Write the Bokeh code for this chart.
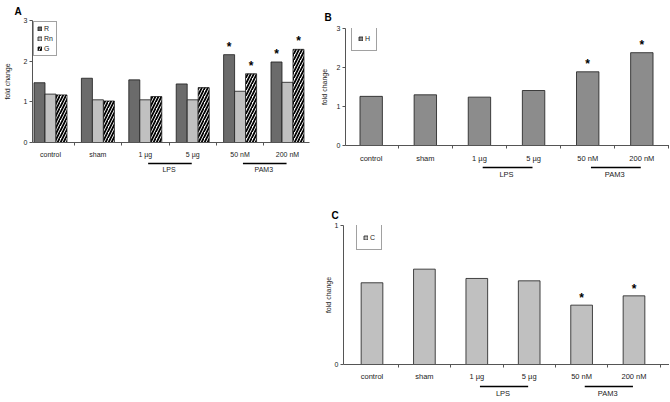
import numpy as np
from bokeh.plotting import figure
from bokeh.models import Range1d, FixedTicker, Legend, LegendItem, Spacer
from bokeh.layouts import column, row
from bokeh.core.properties import value
from bokeh.embed import file_html
from bokeh.resources import INLINE

# ---------------- data ----------------
categories = ["control", "sham", "1 \u00b5g", "5 \u00b5g", "50 nM", "200 nM"]
group_names = ["LPS", "PAM3"]
group_members = [["1 \u00b5g", "5 \u00b5g"], ["50 nM", "200 nM"]]

a_R = [1.47, 1.58, 1.54, 1.44, 2.16, 1.98]
a_Rn = [1.19, 1.05, 1.05, 1.05, 1.26, 1.48]
a_G = [1.17, 1.02, 1.13, 1.35, 1.69, 2.29]
a_R_sig = [False, False, False, False, True, True]
a_Rn_sig = [False, False, False, False, False, False]
a_G_sig = [False, False, False, False, True, True]

b_H = [1.26, 1.30, 1.24, 1.41, 1.89, 2.38]
b_H_sig = [False, False, False, False, True, True]

c_C = [0.588, 0.686, 0.619, 0.602, 0.427, 0.494]
c_C_sig = [False, False, False, False, True, True]

a_yticks = [0, 1, 2, 3]
b_yticks = [0, 1, 2, 3]
c_yticks = [0, 1]

FONT = "Liberation Sans"
AXIS_COL = "#555555"
TEXT_COL = "#222222"


def make_main(width, bl, br, bt, frame_h, bb, x0_px, step_px, ymax, yticks,
              letter, letter_offset, letter_standoff, tick_font, label_standoff,
              ylabel_standoff):
    frame_w = width - bl - br
    x_start = -x0_px / step_px
    xr = Range1d(x_start, x_start + frame_w / step_px)
    p = figure(width=width, height=bt + frame_h + bb, output_backend="svg",
               toolbar_location=None, x_range=xr, y_range=Range1d(0, ymax),
               min_border=0, min_border_left=bl, min_border_right=br,
               min_border_top=bt, min_border_bottom=bb, title=letter)
    p.grid.visible = False
    p.outline_line_color = None
    p.background_fill_color = "white"
    p.border_fill_color = "white"

    t = p.title
    t.align = "left"
    t.offset = letter_offset
    t.standoff = letter_standoff
    t.text_font = FONT
    t.text_font_size = "10px"
    t.text_font_style = "bold"
    t.text_color = "black"

    n = len(categories)
    xa = p.xaxis[0]
    xa.ticker = FixedTicker(ticks=list(range(n)), minor_ticks=[i + 0.5 for i in range(n)])
    xa.major_label_overrides = {i: c for i, c in enumerate(categories)}
    xa.major_tick_out = 0
    xa.major_tick_in = 0
    xa.minor_tick_out = 3
    xa.minor_tick_in = 0
    xa.minor_tick_line_color = AXIS_COL
    xa.axis_line_color = AXIS_COL
    xa.major_label_standoff = label_standoff
    xa.major_label_text_font = FONT
    xa.major_label_text_font_size = tick_font
    xa.major_label_text_color = TEXT_COL

    ya = p.yaxis[0]
    ya.ticker = FixedTicker(ticks=yticks, minor_ticks=[])
    ya.major_tick_out = 3
    ya.major_tick_in = 0
    ya.minor_tick_out = 0
    ya.minor_tick_in = 0
    ya.major_tick_line_color = AXIS_COL
    ya.axis_line_color = AXIS_COL
    ya.major_label_standoff = 2
    ya.major_label_text_font = FONT
    ya.major_label_text_font_size = "7px"
    ya.major_label_text_color = TEXT_COL
    ya.axis_label = "fold change"
    ya.axis_label_text_font = FONT
    ya.axis_label_text_font_size = "7px"
    ya.axis_label_text_font_style = "normal"
    ya.axis_label_text_color = TEXT_COL
    ya.axis_label_standoff = ylabel_standoff
    return p, xr


def make_groups(width, height, bl, br, xr, line_px, tick_font):
    """Strip under the x axis holding the LPS / PAM3 bracket lines."""
    g = figure(width=width, height=height, output_backend="svg", toolbar_location=None,
               x_range=xr, y_range=Range1d(-height, 0), x_axis_location=None,
               y_axis_location=None, min_border=0, min_border_left=bl,
               min_border_right=br, min_border_top=0, min_border_bottom=0)
    g.grid.visible = False
    g.outline_line_color = None
    g.background_fill_color = "white"
    g.border_fill_color = "white"
    for name, members in zip(group_names, group_members):
        i0 = categories.index(members[0])
        i1 = categories.index(members[-1])
        g.segment(x0=[i0 + 0.06], y0=[-line_px], x1=[i1 - 0.02], y1=[-line_px],
                  line_color="black", line_width=1.5)
        g.text(x=[(i0 + i1) / 2], y=[-line_px], text=[name], text_font=value(FONT),
               text_font_size=tick_font, text_align="center", text_baseline="top",
               y_offset=2, text_color=TEXT_COL)
    return g


def add_stars(p, xs, vals, sig, y_off):
    sx = [x for x, s in zip(xs, sig) if s]
    sy = [v for v, s in zip(vals, sig) if s]
    if sx:
        p.text(x=sx, y=sy, text=["*"] * len(sx), text_font=value(FONT),
               text_font_size="12px", text_font_style="bold", text_align="center",
               text_baseline="middle", y_offset=y_off, text_color="black")


def style_legend(lg, pad, lw):
    lg.label_text_font = FONT
    lg.label_text_font_size = "7px"
    lg.label_text_color = TEXT_COL
    lg.glyph_width = 5
    lg.glyph_height = 5
    lg.label_standoff = 2
    lg.label_width = lw
    lg.padding = pad
    lg.margin = 0
    lg.border_line_color = "#444444"
    lg.border_line_width = 1
    lg.background_fill_color = "white"
    lg.background_fill_alpha = 1.0


idx = np.arange(len(categories))

# ---------------- Panel A ----------------
A_W, A_BL, A_BR = 317, 32, 8
pA, xrA = make_main(A_W, A_BL, A_BR, 19, 125, 16, 18, 47.4, 3, a_yticks,
                    "A", -18, 7, "7px", 5, 10)
bw = 0.232
rR = pA.vbar(x=idx - bw, top=a_R, bottom=0, width=bw, fill_color="#6b6b6b", line_color="#1a1a1a", line_width=0.8)
rRn = pA.vbar(x=idx, top=a_Rn, bottom=0, width=bw, fill_color="#c0c0c0", line_color="#1a1a1a", line_width=0.8)
rG = pA.vbar(x=idx + bw, top=a_G, bottom=0, width=bw, fill_color="white", line_color="#1a1a1a", line_width=0.8,
             hatch_pattern="/", hatch_color="black", hatch_scale=6, hatch_weight=1.8)
add_stars(pA, idx - bw, a_R, a_R_sig, -8)
add_stars(pA, idx, a_Rn, a_Rn_sig, -8)
add_stars(pA, idx + bw, a_G, a_G_sig, -8)
legA = Legend(items=[LegendItem(label="R", renderers=[rR]), LegendItem(label="Rn", renderers=[rRn]),
                     LegendItem(label="G", renderers=[rG])], location="top_left")
style_legend(legA, 3, 8)
legA.margin = 1
legA.label_height = 7
legA.spacing = 3
pA.add_layout(legA)
gA = make_groups(A_W, 40, A_BL, A_BR, xrA, 3, "7px")

# ---------------- Panel B ----------------
B_W, B_BL, B_BR = 352, 24, 0
B_FH = 117
pB, xrB = make_main(B_W, B_BL, B_BR, 28, B_FH, 20, 26, 54.8, 3, b_yticks,
                    "B", -21, 11, "7.5px", 5, 6)
rH = pB.vbar(x=idx, top=b_H, bottom=0, width=0.414, fill_color="#8c8c8c", line_color="#1a1a1a", line_width=0.8)
add_stars(pB, idx, b_H, b_H_sig, -8)
legB = Legend(items=[LegendItem(label="H", renderers=[rH])], location=(6, B_FH - 23))
style_legend(legB, 6, 5)
legB.label_height = 12
pB.add_layout(legB)
gB = make_groups(B_W, 35, B_BL, B_BR, xrB, 2, "7.5px")

# ---------------- Panel C ----------------
C_W, C_BL, C_BR = 352, 26, 0
C_FH = 139
pC, xrC = make_main(C_W, C_BL, C_BR, 25, C_FH, 19, 28.5, 52.4, 1, c_yticks,
                    "C", -12, 9, "7.5px", 4, 0)
rC = pC.vbar(x=idx, top=c_C, bottom=0, width=0.414, fill_color="#c0c0c0", line_color="#1a1a1a", line_width=0.8)
add_stars(pC, idx, c_C, c_C_sig, -7)
legC = Legend(items=[LegendItem(label="C", renderers=[rC])], location=(13, C_FH - 2 - 23))
style_legend(legC, 6, 5)
legC.label_height = 12
pC.add_layout(legC)
gC = make_groups(C_W, 18, C_BL, C_BR, xrC, 3, "7.5px")

layout = column(
    row(column(pA, gA), column(pB, gB)),
    row(Spacer(width=A_W, height=201), column(pC, gC)),
)

open("out.html", "w").write(file_html(layout, INLINE))
